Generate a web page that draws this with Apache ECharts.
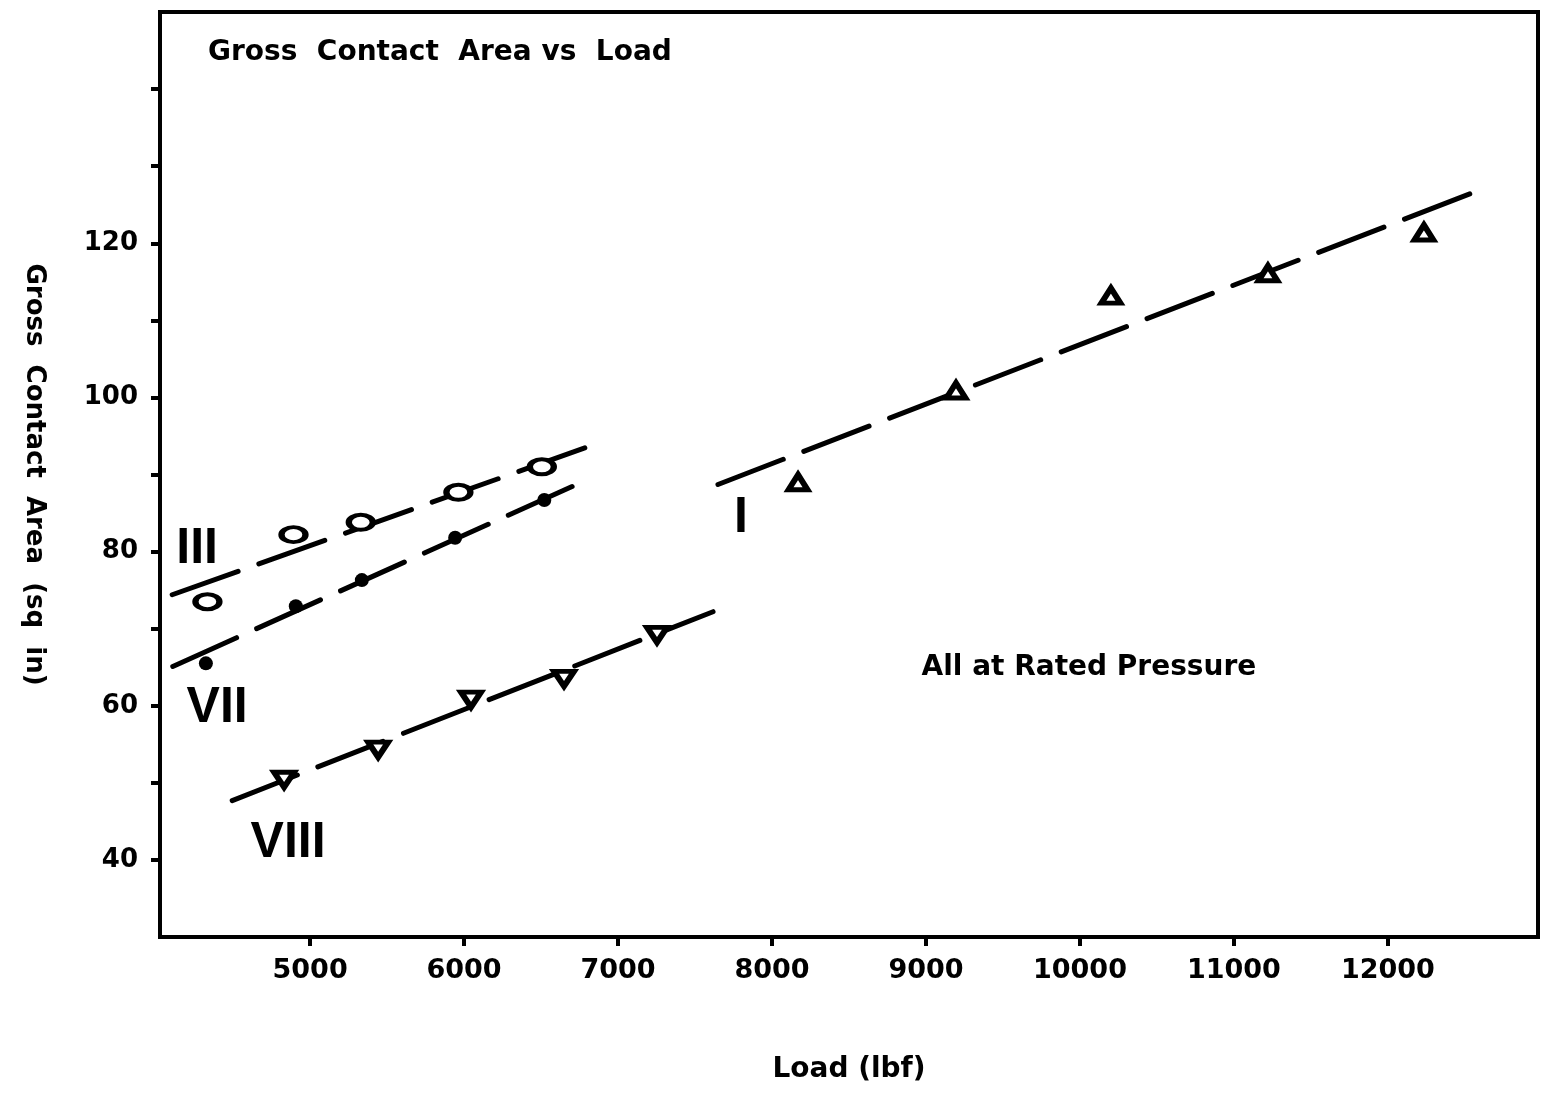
<!DOCTYPE html>
<html><head><meta charset="utf-8">
<script src="https://cdn.jsdelivr.net/npm/echarts@6/dist/echarts.min.js"></script>
<style>html,body{margin:0;padding:0;background:#fff}#c{width:1543px;height:1094px}</style>
</head><body><div id="c"></div>
<script>
// Axis ticks / labels
const xTicks = [5000, 6000, 7000, 8000, 9000, 10000, 11000, 12000];
const yTicks = [40, 50, 60, 70, 80, 90, 100, 110, 120, 130, 140];
const yLabels = [40, 60, 80, 100, 120];

// Measured points: Load (lbf) vs Gross Contact Area (sq in)
const iiiLoad  = [4333, 4892, 5329, 5963, 6505];
const iiiArea  = [73.5, 82.2, 83.8, 87.7, 91.0];
const viiLoad  = [4323, 4907, 5336, 5942, 6521];
const viiArea  = [65.5, 72.9, 76.3, 81.8, 86.7];
const viiiLoad = [4831, 5442, 6045, 6649, 7253];
const viiiArea = [50.4, 54.3, 60.8, 63.5, 69.2];
const iLoad    = [8169, 9195, 10201, 11221, 12234];
const iArea    = [89.0, 100.9, 113.2, 116.1, 121.4];

// Fitted (dashed) lines: end points
const iiiFitLoad  = [4104, 6805];
const iiiFitArea  = [74.4, 93.6];
const viiFitLoad  = [4108, 6797];
const viiFitArea  = [65.1, 89.3];
const viiiFitLoad = [4494, 7617];
const viiiFitArea = [47.7, 72.2];
const iFitLoad    = [7649, 12597];
const iFitArea    = [88.7, 126.9];

// Annotations (data coordinates)
const seriesNames = ['III', 'VII', 'VIII', 'I'];
const seriesNameLoad = [4266, 4396, 4857, 7799];
const seriesNameArea = [80.3, 59.7, 42.2, 84.3];
const noteText = ['All at Rated Pressure'];
const noteLoad = [10058];
const noteArea = [64.9];

const zip = (a, b) => a.map((v, i) => [v, b[i]]);
const FONT = 'DejaVu Sans';

const fitStyle = { color: '#000', width: 5, type: [70, 22], cap: 'round' };
function fitSeries(xs, ys) {
  return { type: 'line', data: zip(xs, ys), symbol: 'none', silent: true, z: 2,
           lineStyle: fitStyle, animation: false };
}

const chart = echarts.init(document.getElementById('c'), null, { renderer: 'canvas' });
chart.setOption({
  backgroundColor: '#fff',
  animation: false,
  title: {
    text: 'Gross  Contact  Area vs  Load', left: 203, top: 34,
    textStyle: { fontFamily: FONT, fontWeight: 'bold', fontSize: 28, color: '#000' }
  },
  grid: { left: 160, top: 12, width: 1378, height: 925,
          show: true, borderColor: '#000', borderWidth: 4, backgroundColor: '#fff' },
  xAxis: {
    type: 'value', min: 4025, max: 12975,
    name: 'Load (lbf)', nameLocation: 'middle', nameGap: 119,
    nameTextStyle: { fontFamily: FONT, fontWeight: 'bold', fontSize: 28, color: '#000' },
    axisLine: { show: true, lineStyle: { color: '#000', width: 4 } },
    axisTick: { show: true, inside: false, length: 9, lineStyle: { color: '#000', width: 4 },
                customValues: xTicks },
    axisLabel: { customValues: xTicks, margin: 20, fontFamily: FONT, fontWeight: 'bold',
                 fontSize: 27, color: '#000', formatter: v => String(v) },
    splitLine: { show: false }
  },
  yAxis: {
    type: 'value', min: 30, max: 150,
    name: 'Gross  Contact  Area  (sq  in)', nameLocation: 'middle', nameGap: 113, nameRotate: -90,
    nameTextStyle: { fontFamily: FONT, fontWeight: 'bold', fontSize: 26, color: '#000' },
    axisLine: { show: true, lineStyle: { color: '#000', width: 4 } },
    axisTick: { show: true, inside: false, length: 9, lineStyle: { color: '#000', width: 4 },
                customValues: yTicks },
    axisLabel: { customValues: yLabels, margin: 22, fontFamily: FONT, fontWeight: 'bold',
                 fontSize: 26, color: '#000', formatter: v => String(v) },
    splitLine: { show: false }
  },
  series: [
    fitSeries(iiiFitLoad, iiiFitArea),
    fitSeries(viiFitLoad, viiFitArea),
    fitSeries(viiiFitLoad, viiiFitArea),
    fitSeries(iFitLoad, iFitArea),
    { name: 'III', type: 'scatter', data: zip(iiiLoad, iiiArea), z: 4,
      symbol: 'circle', symbolSize: [24, 15],
      itemStyle: { color: '#fff', borderColor: '#000', borderWidth: 5, opacity: 1 } },
    { name: 'VII', type: 'scatter', data: zip(viiLoad, viiArea), z: 4,
      symbol: 'circle', symbolSize: 14,
      itemStyle: { color: '#000', borderColor: '#000', borderWidth: 0, opacity: 1 } },
    { name: 'VIII', type: 'scatter', data: zip(viiiLoad, viiiArea), z: 4,
      symbol: 'triangle', symbolRotate: 180, symbolSize: [20, 15],
      itemStyle: { color: '#fff', borderColor: '#000', borderWidth: 5.5, opacity: 1 } },
    { name: 'I', type: 'scatter', data: zip(iLoad, iArea), z: 4,
      symbol: 'triangle', symbolSize: [19, 15],
      itemStyle: { color: '#fff', borderColor: '#000', borderWidth: 5.5, opacity: 1 } },
    { type: 'scatter', silent: true, z: 5, symbolSize: 1,
      itemStyle: { color: 'rgba(0,0,0,0)', opacity: 1 },
      data: seriesNames.map((t, i) => ({ value: [seriesNameLoad[i], seriesNameArea[i]], name: t })),
      label: { show: true, position: 'inside', formatter: p => p.name,
               fontFamily: 'Liberation Sans', fontWeight: 'bold', fontSize: 50, color: '#000' } },
    { type: 'scatter', silent: true, z: 5, symbolSize: 1,
      itemStyle: { color: 'rgba(0,0,0,0)', opacity: 1 },
      data: noteText.map((t, i) => ({ value: [noteLoad[i], noteArea[i]], name: t })),
      label: { show: true, position: 'inside', formatter: p => p.name,
               fontFamily: FONT, fontWeight: 'bold', fontSize: 28, color: '#000' } }
  ]
});
</script>
</body></html>
